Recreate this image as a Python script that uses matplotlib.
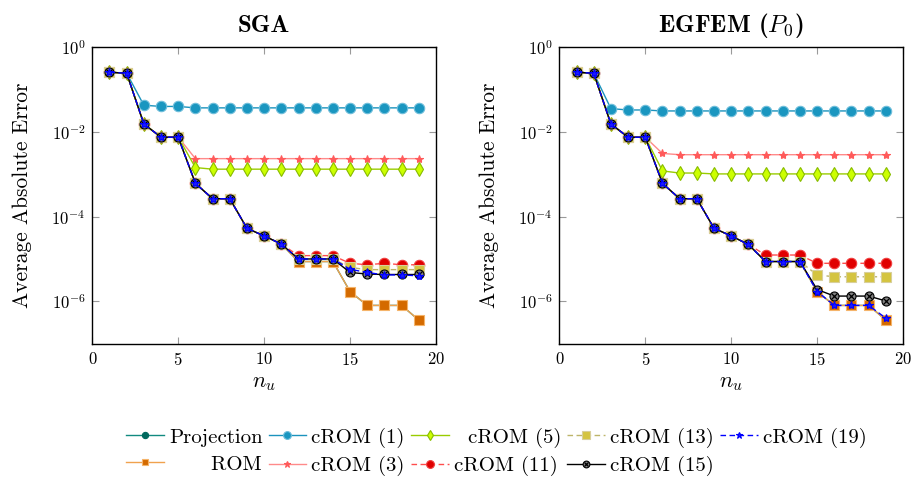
import matplotlib
matplotlib.use("Agg")
import matplotlib.pyplot as plt
from matplotlib.legend_handler import HandlerTuple

plt.rcParams['font.family'] = 'serif'
plt.rcParams['font.serif'] = ['cmr10']
plt.rcParams['mathtext.fontset'] = 'cm'
plt.rcParams['axes.formatter.use_mathtext'] = True

n_u = [1, 2, 3, 4, 5, 6, 7, 8, 9, 10, 11, 12, 13, 14, 15, 16, 17, 18, 19]

# ---- SGA ----
sga_projection = [0.257, 0.243, 0.0154, 0.0075, 0.0075, 6.1e-4, 2.65e-4, 2.65e-4, 5.3e-5, 3.5e-5, 2.25e-5,
                  8.7e-6, 8.7e-6, 8.7e-6, 1.7e-6, 8e-7, 8e-7, 8e-7, 3.6e-7]
sga_rom = [0.257, 0.243, 0.0154, 0.0075, 0.0075, 6.1e-4, 2.65e-4, 2.65e-4, 5.3e-5, 3.5e-5, 2.25e-5,
           8.7e-6, 8.7e-6, 8.7e-6, 1.7e-6, 8e-7, 8e-7, 8e-7, 3.6e-7]
sga_crom1 = [0.257, 0.243, 0.0427, 0.040, 0.040, 0.037, 0.037, 0.037, 0.037, 0.037, 0.037,
             0.037, 0.037, 0.037, 0.037, 0.037, 0.037, 0.037, 0.037]
sga_crom3 = [0.257, 0.243, 0.0154, 0.0075, 0.0075, 2.34e-3, 2.34e-3, 2.34e-3, 2.34e-3, 2.34e-3, 2.34e-3,
             2.34e-3, 2.34e-3, 2.34e-3, 2.34e-3, 2.34e-3, 2.34e-3, 2.34e-3, 2.34e-3]
sga_crom5 = [0.257, 0.243, 0.0154, 0.0075, 0.0075, 1.44e-3, 1.32e-3, 1.32e-3, 1.32e-3, 1.32e-3, 1.32e-3,
             1.32e-3, 1.32e-3, 1.32e-3, 1.32e-3, 1.32e-3, 1.32e-3, 1.32e-3, 1.32e-3]
sga_crom11 = [0.257, 0.243, 0.0154, 0.0075, 0.0075, 6.1e-4, 2.65e-4, 2.65e-4, 5.3e-5, 3.5e-5, 2.25e-5,
              1.2e-5, 1.2e-5, 1.2e-5, 7.9e-6, 7.3e-6, 7.9e-6, 7.3e-6, 7.3e-6]
sga_crom13 = [0.257, 0.243, 0.0154, 0.0075, 0.0075, 6.1e-4, 2.65e-4, 2.65e-4, 5.3e-5, 3.5e-5, 2.25e-5,
              1.0e-5, 1.0e-5, 1.0e-5, 6.3e-6, 5.6e-6, 5.6e-6, 5.6e-6, 5.6e-6]
sga_crom15 = [0.257, 0.243, 0.0154, 0.0075, 0.0075, 6.1e-4, 2.65e-4, 2.65e-4, 5.3e-5, 3.5e-5, 2.25e-5,
              1.0e-5, 1.0e-5, 1.0e-5, 4.8e-6, 4.4e-6, 4.3e-6, 4.3e-6, 4.3e-6]
sga_crom19 = [0.257, 0.243, 0.0154, 0.0075, 0.0075, 6.1e-4, 2.65e-4, 2.65e-4, 5.3e-5, 3.5e-5, 2.25e-5,
              1.0e-5, 1.0e-5, 1.0e-5, 5.7e-6, 4.8e-6, 4.2e-6, 4.2e-6, 4.0e-6]

# ---- EGFEM (P0) ----
eg_projection = [0.257, 0.243, 0.0154, 0.0075, 0.0075, 6.1e-4, 2.65e-4, 2.65e-4, 5.3e-5, 3.5e-5, 2.2e-5,
                 8.7e-6, 8.7e-6, 8.7e-6, 1.7e-6, 8e-7, 8e-7, 8e-7, 3.6e-7]
eg_rom = [0.257, 0.243, 0.0154, 0.0075, 0.0075, 6.1e-4, 2.65e-4, 2.65e-4, 5.3e-5, 3.5e-5, 2.2e-5,
          8.7e-6, 8.7e-6, 8.7e-6, 1.7e-6, 8e-7, 8e-7, 8e-7, 3.6e-7]
eg_crom1 = [0.257, 0.243, 0.0355, 0.033, 0.033, 0.0313, 0.0313, 0.0313, 0.0313, 0.0313, 0.0313,
            0.0313, 0.0313, 0.0313, 0.0313, 0.0313, 0.0313, 0.0313, 0.0313]
eg_crom3 = [0.257, 0.243, 0.0154, 0.0075, 0.0075, 3.1e-3, 2.9e-3, 2.9e-3, 2.9e-3, 2.9e-3, 2.9e-3,
            2.9e-3, 2.9e-3, 2.9e-3, 2.9e-3, 2.9e-3, 2.9e-3, 2.9e-3, 2.9e-3]
eg_crom5 = [0.257, 0.243, 0.0154, 0.0075, 0.0075, 1.2e-3, 1.07e-3, 1.07e-3, 1.02e-3, 1.02e-3, 1.02e-3,
            1.02e-3, 1.02e-3, 1.02e-3, 1.02e-3, 1.02e-3, 1.02e-3, 1.02e-3, 1.02e-3]
eg_crom11 = [0.257, 0.243, 0.0154, 0.0075, 0.0075, 6.1e-4, 2.65e-4, 2.65e-4, 5.3e-5, 3.5e-5, 2.2e-5,
             1.24e-5, 1.24e-5, 1.24e-5, 7.9e-6, 7.9e-6, 7.9e-6, 7.9e-6, 7.9e-6]
eg_crom13 = [0.257, 0.243, 0.0154, 0.0075, 0.0075, 6.1e-4, 2.65e-4, 2.65e-4, 5.3e-5, 3.5e-5, 2.2e-5,
             8.7e-6, 8.7e-6, 8.7e-6, 4.2e-6, 3.8e-6, 3.8e-6, 3.8e-6, 3.8e-6]
eg_crom15 = [0.257, 0.243, 0.0154, 0.0075, 0.0075, 6.1e-4, 2.65e-4, 2.65e-4, 5.3e-5, 3.5e-5, 2.2e-5,
             8.7e-6, 8.7e-6, 8.7e-6, 1.9e-6, 1.33e-6, 1.33e-6, 1.33e-6, 1.02e-6]
eg_crom19 = [0.257, 0.243, 0.0154, 0.0075, 0.0075, 6.1e-4, 2.65e-4, 2.65e-4, 5.3e-5, 3.5e-5, 2.2e-5,
             8.7e-6, 8.7e-6, 8.7e-6, 1.7e-6, 8e-7, 8e-7, 8e-7, 4e-7]

titles = ["SGA", r"EGFEM ($P_0$)"]
xticks = [0, 5, 10, 15, 20]
yticks = [1e0, 1e-2, 1e-4, 1e-6]

styles = {
    'Projection': dict(color='#128a80', marker='o', mfc='#00695e', mec='#00695e', ms=6, ls='-'),
    'ROM': dict(color='#f0a24e', marker='s', mfc='#d46a00', mec='#f5b46a', ms=6.5, ls='-'),
    'cROM (1)': dict(color='#1b93bd', marker='o', mfc='#1a96c0', mec='#6fbedb', ms=7.5, ls='-'),
    'cROM (3)': dict(color='#ff8a8a', marker='*', mfc='#ff5a5a', mec='#ff5a5a', ms=6, ls='-'),
    'cROM (5)': dict(color='#99cc00', marker='d', mfc='#ccff00', mec='#88bb00', ms=7, ls='-'),
    'cROM (11)': dict(color='#ff4d4d', marker='o', mfc='#e00000', mec='#f04040', ms=7.5, ls=(0, (4, 2.5))),
    'cROM (13)': dict(color='#bdb56a', marker='s', mfc='#d4c440', mec='#d8cf9a', ms=7, ls=(0, (4, 2.5))),
    'cROM (15)': dict(color='black', marker='o', mfc='#808080', mec='black', ms=6.5, ls='-'),
    'cROM (19)': dict(color='#0000ff', marker='*', mfc='#1a1aff', mec='#0000ff', ms=6, ls=(0, (4, 2.5))),
}

series = [
    ('Projection', sga_projection, eg_projection),
    ('ROM', sga_rom, eg_rom),
    ('cROM (1)', sga_crom1, eg_crom1),
    ('cROM (3)', sga_crom3, eg_crom3),
    ('cROM (5)', sga_crom5, eg_crom5),
    ('cROM (11)', sga_crom11, eg_crom11),
    ('cROM (13)', sga_crom13, eg_crom13),
    ('cROM (15)', sga_crom15, eg_crom15),
    ('cROM (19)', sga_crom19, eg_crom19),
]

fig = plt.figure(figsize=(9.14, 4.82), dpi=100)
ax1 = fig.add_axes([0.101, 0.287, 0.376, 0.615])
ax2 = fig.add_axes([0.612, 0.287, 0.376, 0.615])
axes = [ax1, ax2]

handles = {}
for k, ax in enumerate(axes):
    for name, s_vals, e_vals in series:
        vals = s_vals if k == 0 else e_vals
        st = styles[name]
        ln, = ax.plot(n_u, vals, color=st['color'], ls=st['ls'], lw=1.0, marker=st['marker'],
                      ms=st['ms'], mfc=st['mfc'], mec=st['mec'], mew=0.8)
        if name == 'cROM (15)':
            xm, = ax.plot(n_u, vals, ls='none', marker='x', ms=4.0, mec='black', mew=0.9)
            handles[name] = (ln, xm)
        else:
            handles[name] = ln
    ax.set_yscale('log')
    ax.set_xlim(0, 20)
    ax.set_ylim(1e-7, 1e0)
    ax.set_xticks(xticks)
    ax.set_yticks(yticks)
    ax.minorticks_off()
    ax.tick_params(direction='in', top=True, right=True, length=5, width=0.8,
                   color='#9a9a9a', labelsize=12, pad=5)
    for sp in ax.spines.values():
        sp.set_linewidth(1.0)
    ax.set_xlabel(r'$n_u$', fontsize=16, labelpad=4)
    ax.set_ylabel('Average Absolute Error', fontsize=15.5, labelpad=14)
    ax.set_title(titles[k], fontsize=18, fontfamily='cmb10', pad=11)

labels_order = ['Projection', 'ROM', 'cROM (1)', 'cROM (3)', 'cROM (5)', 'cROM (11)',
                'cROM (13)', 'cROM (15)', 'cROM (19)']
display = {'ROM': '      ROM', 'cROM (5)': '  cROM (5)'}
leg = fig.legend([handles[l] for l in labels_order],
                 [display.get(l, l) for l in labels_order],
                 loc='upper center', bbox_to_anchor=(0.543, 0.13), ncol=5,
                 frameon=False, fontsize=15, handlelength=1.8, handletextpad=0.25,
                 columnspacing=0.3, labelspacing=0.4, borderaxespad=0.0, markerscale=0.75,
                 handler_map={tuple: HandlerTuple(ndivide=1, pad=0)})

fig.savefig('out.png', dpi=100)
